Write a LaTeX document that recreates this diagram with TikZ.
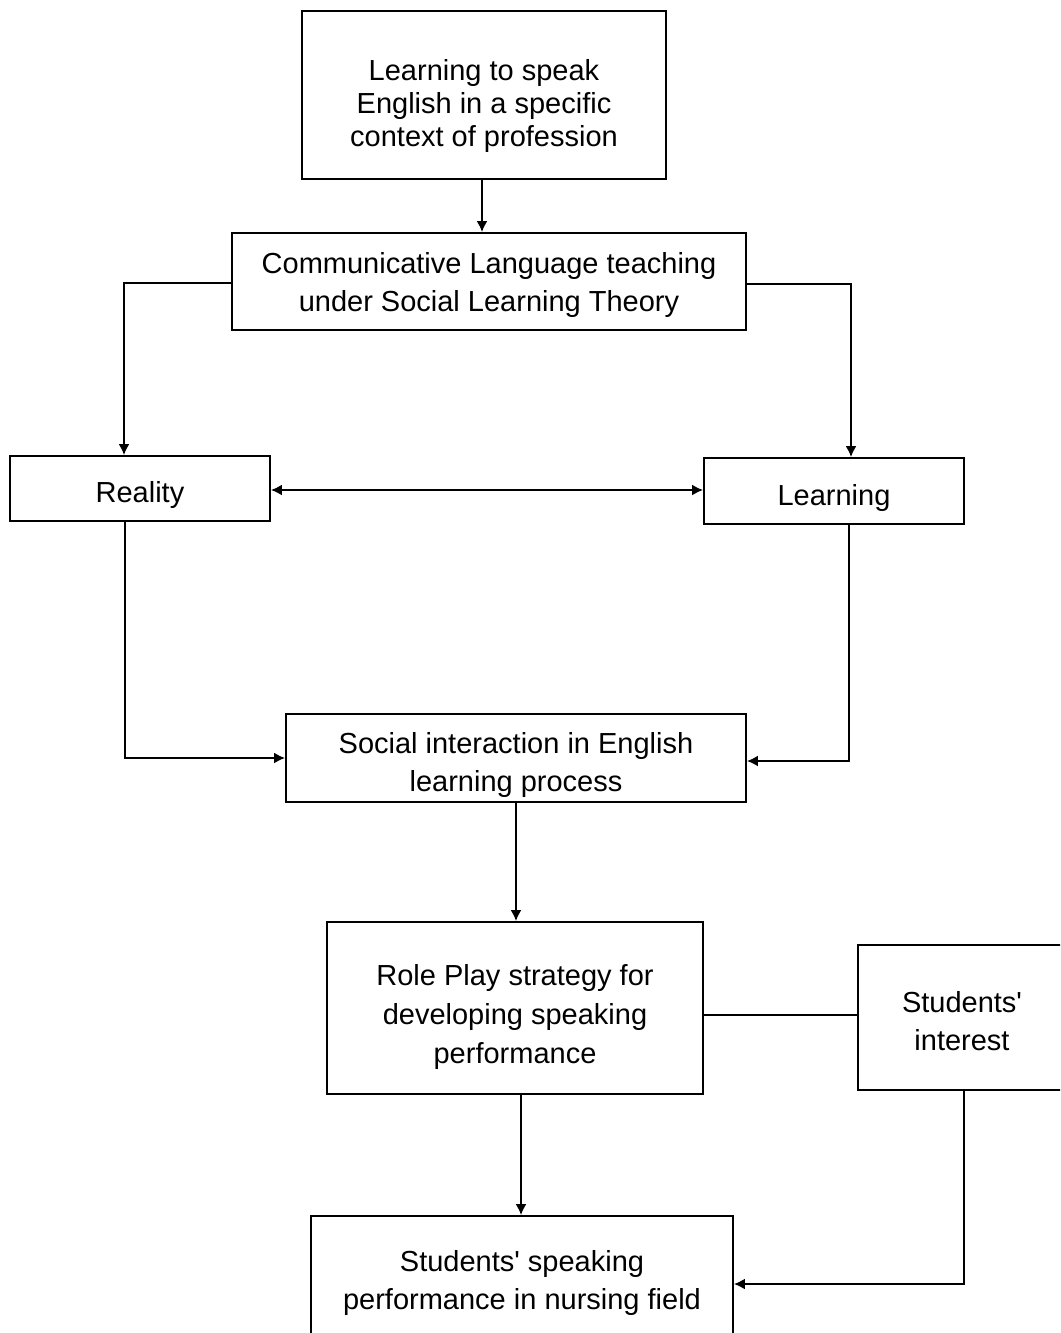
\documentclass[tikz,border=0pt]{standalone}
\usepackage{fontspec}
\setmainfont{Liberation Sans}[Ligatures=TeXOff]
\usetikzlibrary{arrows.meta,calc}
\begin{document}
\begin{tikzpicture}[x=1pt,y=-1pt,
  box/.style={draw,line width=1.8pt,inner sep=0pt},
  txt/.style={inner sep=0pt,align=center,font=\fontsize{29}{38}\selectfont},
  conn/.style={line width=2pt},
  arr/.style={conn,-{Latex[length=11pt,width=11pt]}}]
\useasboundingbox (0,0) rectangle (1060,1333);
\clip (0,0) rectangle (1060,1333);
\node[box,minimum width=364pt,minimum height=168pt] (top) at (484,95) {};
\node[txt,font=\fontsize{29}{33}\selectfont] (topt) at (484,106) {Learning to speak\\English in a specific\\context of profession};
\node[box,minimum width=514pt,minimum height=97pt] (clt) at (489,281.5) {};
\node[txt] (cltt) at (489,284.5) {Communicative Language teaching\\under Social Learning Theory};
\node[box,minimum width=260pt,minimum height=65pt] (real) at (140,488.5) {};
\node[txt] (realt) at (140,495) {Reality};
\node[box,minimum width=260pt,minimum height=66pt] (learn) at (834,491) {};
\node[txt] (learnt) at (834,498) {Learning};
\node[box,minimum width=460pt,minimum height=88pt] (soc) at (516,758) {};
\node[txt] (soct) at (516,765) {Social interaction in English\\learning process};
\node[box,minimum width=376pt,minimum height=172pt] (role) at (515,1008) {};
\node[txt,font=\fontsize{29}{39}\selectfont] (rolet) at (515,1017) {Role Play strategy for\\developing speaking\\performance};
\node[box,minimum width=208pt,minimum height=145pt] (int) at (962,1017.5) {};
\node[txt] (intt) at (962,1021.5) {Students'\\interest};
\node[box,minimum width=422pt,minimum height=128pt] (out) at (522,1280) {};
\node[txt] (outt) at (522,1283) {Students' speaking\\performance in nursing field};
\draw[arr] ([xshift=-2pt]top.south) -- ([xshift=-2pt]top.south |- clt.north);
\draw[arr] ([yshift=-1.5pt]clt.west) -| ([xshift=-16pt]real.north);
\draw[arr] ([yshift=-2.5pt]clt.east) -| ([xshift=17pt]learn.north);
\draw[conn,{Latex[length=11pt,width=11pt]}-{Latex[length=11pt,width=11pt]}] ([yshift=-1.5pt]real.east) -- ([yshift=-1.5pt]real.east -| learn.west);
\draw[arr] ([xshift=-15pt]real.south) |- (soc.west);
\draw[arr] ([xshift=15pt]learn.south) |- ([yshift=-3pt]soc.east);
\draw[arr] (soc.south) -- (soc.south |- role.north);
\draw[conn] ([yshift=-7pt]role.east) -- ([yshift=-7pt]role.east -| int.west);
\draw[arr] ([xshift=6pt]role.south) -- ([xshift=6pt]role.south |- out.north);
\draw[arr] ([xshift=2pt]int.south) |- ([yshift=-4pt]out.east);
\end{tikzpicture}
\end{document}
